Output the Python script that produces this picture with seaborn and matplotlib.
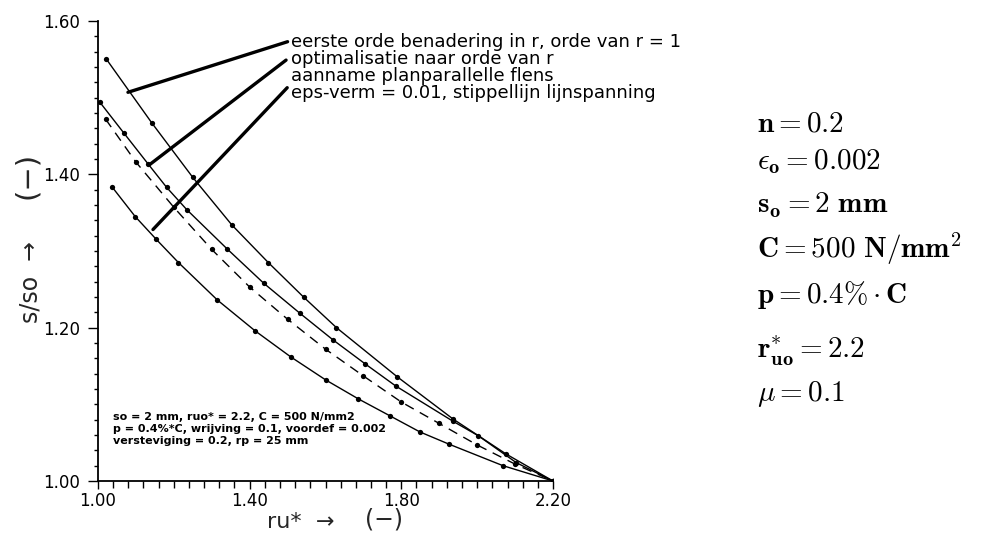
import matplotlib
matplotlib.use("Agg")
import matplotlib.pyplot as plt
import pandas as pd
import seaborn as sns
from matplotlib.ticker import MultipleLocator, FormatStrFormatter

# s/so against ru* for the four calculation methods
ru_eerste = [1.021, 1.142, 1.250, 1.353, 1.449, 1.542, 1.629, 1.789, 1.936, 2.077, 2.20]
s_eerste = [1.551, 1.467, 1.396, 1.334, 1.285, 1.240, 1.200, 1.136, 1.081, 1.035, 1.000]

ru_optim = [1.005, 1.068, 1.133, 1.181, 1.234, 1.340, 1.437, 1.532, 1.620, 1.704,
            1.785, 1.936, 2.003, 2.103, 2.20]
s_optim = [1.494, 1.454, 1.413, 1.383, 1.354, 1.303, 1.258, 1.219, 1.184, 1.153,
           1.124, 1.078, 1.059, 1.024, 1.000]

ru_lijn = [1.02, 1.10, 1.20, 1.30, 1.40, 1.50, 1.60, 1.70, 1.80, 1.90, 2.00, 2.10, 2.20]
s_lijn = [1.472, 1.416, 1.357, 1.302, 1.253, 1.211, 1.172, 1.137, 1.103, 1.075,
          1.047, 1.022, 1.000]

ru_eps = [1.038, 1.098, 1.154, 1.212, 1.315, 1.414, 1.508, 1.600, 1.687, 1.770,
          1.849, 1.926, 2.068, 2.20]
s_eps = [1.383, 1.345, 1.315, 1.285, 1.236, 1.196, 1.162, 1.132, 1.107, 1.085,
         1.064, 1.048, 1.020, 1.000]

x_ticks = [1.00, 1.40, 1.80, 2.20]
y_ticks = [1.00, 1.20, 1.40, 1.60]

legend_lines = [
    "eerste orde benadering in r, orde van r = 1",
    "optimalisatie naar orde van r",
    "aanname planparallelle flens",
    "eps-verm = 0.01, stippellijn lijnspanning",
]
info_lines = [
    "so = 2 mm, ruo* = 2.2, C = 500 N/mm2",
    "p = 0.4%*C, wrijving = 0.1, voordef = 0.002",
    "versteviging = 0.2, rp = 25 mm",
]
formulas = [
    r"$\mathbf{n = 0.2}$",
    r"$\epsilon_{\mathbf{o}} \mathbf{= 0.002}$",
    r"$\mathbf{s_{o} = 2\ mm}$",
    r"$\mathbf{C = 500\ N/mm^{2}}$",
    r"$\mathbf{p = 0.4\%\cdot C}$",
    r"$\mathbf{r^{*}_{uo} = 2.2}$",
    r"$\mu \mathbf{= 0.1}$",
]

sns.set_style("ticks")
plt.rcParams["font.family"] = ["DejaVu Sans"]
plt.rcParams["mathtext.fontset"] = "cm"

W, H = 991, 536
fig = plt.figure(figsize=(W / 100, H / 100), dpi=100)
ax = fig.add_axes([98 / W, 1 - 481 / H, (553 - 98) / W, (481 - 21) / H])


def fx(px):
    return px / W


def fy(py):
    return 1 - py / H


df = pd.concat([
    pd.DataFrame({"ru": ru_eerste, "s": s_eerste, "kromme": "eerste"}),
    pd.DataFrame({"ru": ru_optim, "s": s_optim, "kromme": "optim"}),
    pd.DataFrame({"ru": ru_lijn, "s": s_lijn, "kromme": "lijn"}),
    pd.DataFrame({"ru": ru_eps, "s": s_eps, "kromme": "eps"}),
])
order = ["eerste", "optim", "lijn", "eps"]
sns.lineplot(
    data=df, x="ru", y="s", hue="kromme", style="kromme",
    hue_order=order, style_order=order,
    palette={k: "black" for k in order},
    dashes={"eerste": "", "optim": "", "lijn": (7, 5), "eps": ""},
    markers={k: "o" for k in order},
    markersize=3.8, markeredgewidth=0, linewidth=1.0,
    sort=False, estimator=None, legend=False, ax=ax,
)

ax.set_xlim(1.0, 2.2)
ax.set_ylim(1.0, 1.6)
ax.set_xticks(x_ticks)
ax.set_yticks(y_ticks)
ax.xaxis.set_minor_locator(MultipleLocator(0.04))
ax.yaxis.set_minor_locator(MultipleLocator(0.02))
ax.xaxis.set_major_formatter(FormatStrFormatter("%.2f"))
ax.yaxis.set_major_formatter(FormatStrFormatter("%.2f"))
ax.set_xlabel("")
ax.set_ylabel("")
sns.despine(ax=ax)
for side in ("left", "bottom"):
    ax.spines[side].set_linewidth(1.3)
    ax.spines[side].set_color("black")
ax.tick_params(axis="both", which="both", direction="out", color="black",
               width=1.0, labelsize=12, labelcolor="black")
ax.tick_params(axis="y", which="major", length=7, pad=6)
ax.tick_params(axis="y", which="minor", length=3)
ax.tick_params(axis="x", which="major", length=6, pad=2)
ax.tick_params(axis="x", which="minor", length=5)

# leader lines from the curves to the legend text
leaders = [((1.079, 1.507), (1.500, 1.573)),
           ((1.137, 1.413), (1.496, 1.549)),
           ((1.145, 1.328), (1.499, 1.513))]
for (x0, y0), (x1, y1) in leaders:
    ax.plot([x0, x1], [y0, y1], color="black", lw=2.4,
            solid_capstyle="round", clip_on=False)

for i, line in enumerate(legend_lines):
    fig.text(fx(291), fy(42 + 17 * i), line, fontsize=13,
             ha="left", va="center", color="black")

for i, line in enumerate(info_lines):
    fig.text(fx(113), fy(417 + 12 * i), line, fontsize=8,
             fontweight="bold", ha="left", va="center", color="black")

# axis titles
fig.text(fx(301), fy(522), "ru*  \u2192", fontsize=16, ha="center", va="center")
fig.text(fx(384), fy(519), "(\u2212)", fontsize=17, ha="center", va="center")
fig.text(fx(31), fy(282), "s/so  \u2192", fontsize=17, ha="center", va="center",
         rotation=90)
fig.text(fx(27), fy(175), "(\u2212)", fontsize=21, ha="center", va="center",
         rotation=90)

# parameter block
baselines = [131, 169, 213, 258, 303, 358, 401]
for text, yb in zip(formulas, baselines):
    fig.text(fx(757), fy(yb), text, fontsize=21, ha="left", va="baseline",
             color="black")

fig.savefig("out.png", dpi=100, facecolor="white")
